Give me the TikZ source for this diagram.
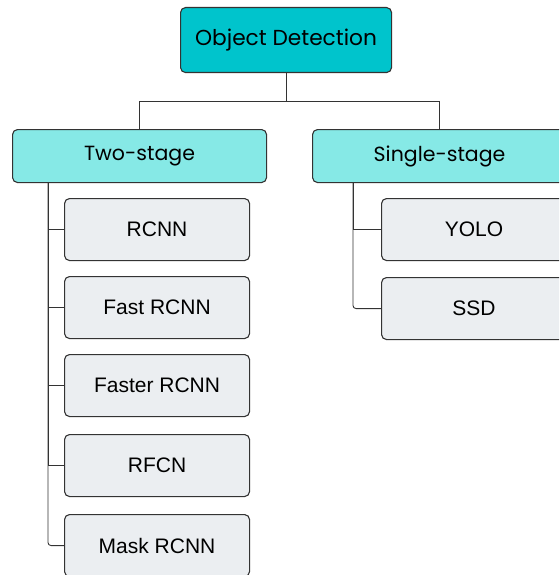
\documentclass[tikz,border=0pt]{standalone}
\usepackage{fontspec}
\setmainfont{Liberation Sans}
\newfontfamily\headfont{Poppins}
\definecolor{odfill}{HTML}{00C4CC}
\definecolor{stagefill}{HTML}{86E9E6}
\definecolor{leaffill}{HTML}{EBEEF1}
\definecolor{linec}{HTML}{333333}
\begin{document}
\begin{tikzpicture}[x=1pt,y=-1pt,
  base/.style={draw=linec,line width=1.1pt,rounded corners=5pt,inner sep=0pt,anchor=north west},
  rootbox/.style={base,fill=odfill,minimum width=211pt,minimum height=65pt,font=\headfont\fontsize{21.7}{26}\selectfont},
  stagebox/.style={base,fill=stagefill,minimum width=254pt,minimum height=53pt,font=\headfont\fontsize{20.5}{24}\selectfont},
  leafbox/.style={base,fill=leaffill,minimum width=185pt,minimum height=62pt,font=\fontsize{21}{25}\selectfont},
  conn/.style={draw=linec,line width=0.9pt}]
\useasboundingbox (0,0) rectangle (559,575);
\clip (0,0) rectangle (559,575);
\node[rootbox] (od) at (180,7) {Object Detection};
\node[stagebox] (two) at (12,129) {Two-stage};
\node[stagebox] (single) at (312,129) {Single-stage};
\node[leafbox] (rcnn) at (64,198) {RCNN};
\node[leafbox] (fast) at (64,276) {Fast RCNN};
\node[leafbox] (faster) at (64,354) {Faster RCNN};
\node[leafbox] (rfcn) at (64,434) {RFCN};
\node[leafbox] (mask) at (64,514) {Mask RCNN};
\node[leafbox] (yolo) at (381,198) {YOLO};
\node[leafbox] (ssd) at (381,277) {SSD};
\coordinate (lt) at ([xshift=36pt]two.south west);
\coordinate (rt) at ([xshift=41pt]single.south west);
\draw[conn] (od.south) -- ++(0,28) coordinate (hub) -| (two.north);
\draw[conn] (hub) -| (single.north);
\draw[conn] (lt) |- (rcnn.west);
\draw[conn] (lt) |- (fast.west);
\draw[conn] (lt) |- (faster.west);
\draw[conn] (lt) |- (rfcn.west);
\draw[conn,rounded corners=3pt] (lt) |- (mask.west);
\draw[conn] (rt) |- (yolo.west);
\draw[conn,rounded corners=3pt] (rt) |- (ssd.west);
\end{tikzpicture}
\end{document}
